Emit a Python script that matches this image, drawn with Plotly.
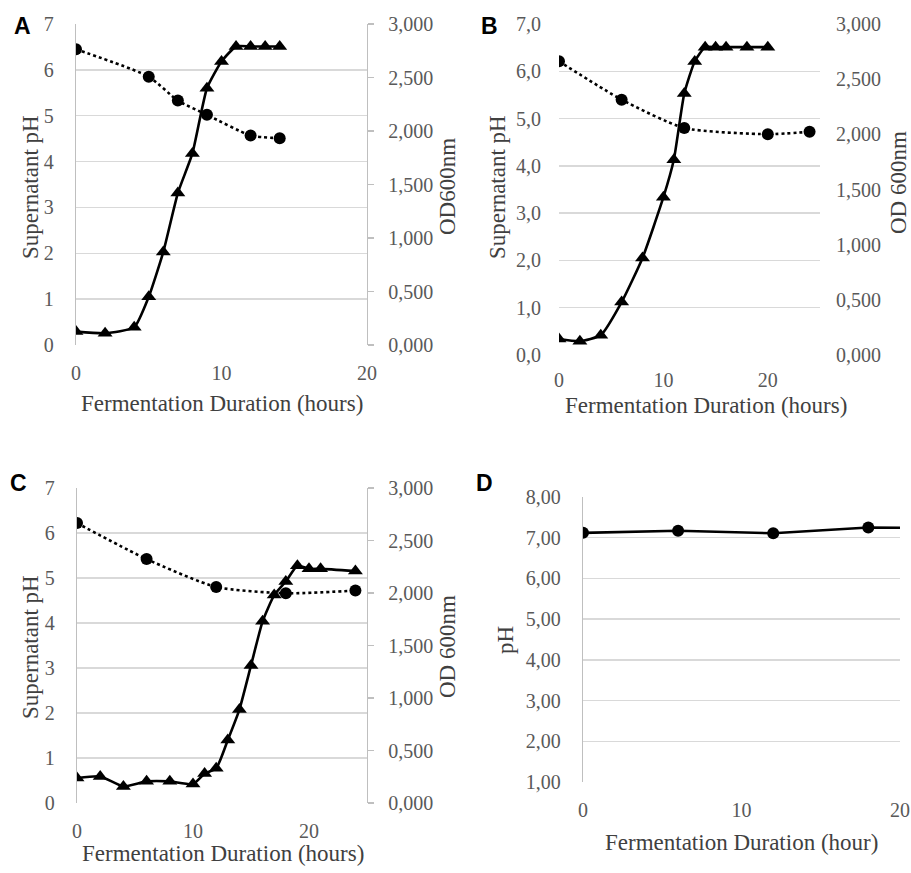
import plotly.graph_objects as go

W, H = 911, 873

# ---------------- data ----------------
# Panel A
a_od_t = [0, 2, 4, 5, 6, 7, 8, 9, 10, 11, 12, 13, 14]
a_od = [0.125, 0.11, 0.165, 0.45, 0.87, 1.42, 1.79, 2.40, 2.65, 2.79, 2.79, 2.79, 2.79]
a_ph_t = [0, 5, 7, 9, 12, 14]
a_ph = [6.45, 5.85, 5.33, 5.02, 4.57, 4.51]

# Panel B
b_od_t = [0, 2, 4, 6, 8, 10, 11, 12, 13, 14, 15, 16, 18, 20]
b_od = [0.145, 0.125, 0.18, 0.48, 0.88, 1.43, 1.77, 2.37, 2.66, 2.79, 2.79, 2.79, 2.79, 2.79]
b_ph_t = [0, 6, 12, 20, 24]
b_ph = [6.21, 5.40, 4.80, 4.67, 4.72]

# Panel C
c_od_t = [0, 2, 4, 6, 8, 10, 11, 12, 13, 14, 15, 16, 17, 18, 19, 20, 21, 24]
c_od = [0.237, 0.253, 0.158, 0.206, 0.206, 0.18, 0.28, 0.33, 0.60, 0.89, 1.31, 1.73,
        1.98, 2.11, 2.26, 2.23, 2.23, 2.21]
c_ph_t = [0, 6, 12, 18, 24]
c_ph = [6.22, 5.42, 4.80, 4.66, 4.72]

# Panel D
d_t = [0, 6, 12, 18, 24]
d_ph = [7.12, 7.17, 7.11, 7.25, 7.23]

# tick labels
ph_vals_int = [0, 1, 2, 3, 4, 5, 6, 7]
ph_text_int = ["0", "1", "2", "3", "4", "5", "6", "7"]
ph_text_b = ["0,0", "1,0", "2,0", "3,0", "4,0", "5,0", "6,0", "7,0"]
od_vals = [0, 0.5, 1.0, 1.5, 2.0, 2.5, 3.0]
od_text = ["0,000", "0,500", "1,000", "1,500", "2,000", "2,500", "3,000"]
d_vals = [1, 2, 3, 4, 5, 6, 7, 8]
d_text = ["1,00", "2,00", "3,00", "4,00", "5,00", "6,00", "7,00", "8,00"]
x_vals = [0, 10, 20]
x_text = ["0", "10", "20"]

# ---------------- styling ----------------
SERIF = "Liberation Serif, Times New Roman, serif"
TICK_FONT = dict(family=SERIF, size=20, color="#595959")
TITLE_FONT = dict(family=SERIF, size=23, color="#404040")
LETTER_FONT = dict(family="Liberation Sans, Arial, sans-serif", size=23, color="black")
GRID = "#d9d9d9"
AXLINE = "#bfbfbf"


def px_x(p):
    return p / W


def px_y(p):
    return 1 - p / H


fig = go.Figure()


def od_trace(x, y, xa, ya):
    fig.add_trace(go.Scatter(
        x=x, y=y, xaxis=xa, yaxis=ya, mode="lines+markers",
        line=dict(color="black", width=2.6, shape="spline", smoothing=0.5),
        marker=dict(symbol="triangle-up", size=13, color="black"),
        showlegend=False, hoverinfo="skip"))


def ph_trace(x, y, xa, ya, dash="dot"):
    fig.add_trace(go.Scatter(
        x=x, y=y, xaxis=xa, yaxis=ya, mode="lines+markers",
        line=dict(color="black", width=2.6, dash=dash, shape="spline", smoothing=0.6),
        marker=dict(symbol="circle", size=12, color="black"),
        showlegend=False, hoverinfo="skip"))


# Panel A
ph_trace(a_ph_t, a_ph, "x", "y")
od_trace(a_od_t, a_od, "x", "y2")
# Panel B
ph_trace(b_ph_t, b_ph, "x2", "y3")
od_trace(b_od_t, b_od, "x2", "y4")
# Panel C
ph_trace(c_ph_t, c_ph, "x3", "y5")
od_trace(c_od_t, c_od, "x3", "y6")
# Panel D
fig.add_trace(go.Scatter(
    x=d_t, y=d_ph, xaxis="x4", yaxis="y7", mode="lines+markers",
    line=dict(color="black", width=2.6),
    marker=dict(symbol="circle", size=12, color="black"),
    showlegend=False, hoverinfo="skip"))


def xaxis(dom, rng, anchor, standoff=14):
    return dict(domain=[px_x(dom[0]), px_x(dom[1])], range=rng, anchor=anchor,
                tickvals=x_vals, ticktext=x_text, tickfont=TICK_FONT,
                showgrid=False, zeroline=False, showline=False, ticks="",
                ticklabelstandoff=standoff, fixedrange=True, automargin=False)


def yleft(dom, rng, anchor, vals, text, line):
    return dict(domain=[px_y(dom[1]), px_y(dom[0])], range=rng, anchor=anchor,
                tickvals=vals, ticktext=text, tickfont=TICK_FONT,
                showgrid=True, gridcolor=GRID, gridwidth=1.3, zeroline=False,
                showline=line, linecolor=AXLINE, linewidth=1.3, ticks="",
                ticklabelstandoff=17, fixedrange=True, automargin=False)


def yright(overlay, anchor, line):
    d = dict(overlaying=overlay, side="right", anchor=anchor, range=[0, 3.0],
             tickvals=od_vals, ticktext=od_text, tickfont=TICK_FONT,
             showgrid=False, zeroline=False, showline=line, linecolor=AXLINE,
             linewidth=1.3, fixedrange=True, automargin=False)
    if line:
        d.update(ticks="outside", ticklen=6, tickcolor=AXLINE, tickwidth=1.3,
                 ticklabelstandoff=10)
    else:
        d.update(ticks="", ticklabelstandoff=15)
    return d


# panel geometry (pixels)
A = dict(x=(76, 367), y=(24, 345))
B = dict(x=(559, 820), y=(24, 355))
C = dict(x=(77, 367), y=(488, 803))
D = dict(x=(583, 900), y=(497, 782))

fig.update_layout(
    width=W, height=H, margin=dict(l=0, r=0, t=0, b=0, autoexpand=False),
    paper_bgcolor="white", plot_bgcolor="white", showlegend=False,
    hovermode=False,
    xaxis=xaxis(A["x"], [0, 20], "y"),
    yaxis=yleft(A["y"], [0, 7], "x", ph_vals_int, ph_text_int, True),
    yaxis2=yright("y", "x", True),
    xaxis2=xaxis(B["x"], [0, 25], "y3", standoff=11),
    yaxis3=yleft(B["y"], [0, 7], "x2", ph_vals_int, ph_text_b, False),
    yaxis4=yright("y3", "x2", False),
    xaxis3=xaxis(C["x"], [0, 25], "y5"),
    yaxis5=yleft(C["y"], [0, 7], "x3", ph_vals_int, ph_text_int, True),
    yaxis6=yright("y5", "x3", True),
    xaxis4=xaxis(D["x"], [0, 20], "y7"),
    yaxis7=yleft(D["y"], [1, 8], "x4", d_vals, d_text, True),
)

annots = [
    # panel letters
    ("A", 22, 26, 0, LETTER_FONT, True),
    ("B", 489, 26, 0, LETTER_FONT, True),
    ("C", 18, 483, 0, LETTER_FONT, True),
    ("D", 485, 483, 0, LETTER_FONT, True),
    # x titles
    ("Fermentation Duration (hours)", 222, 403, 0, TITLE_FONT, False),
    ("Fermentation Duration (hours)", 706, 405, 0, TITLE_FONT, False),
    ("Fermentation Duration (hours)", 223, 853, 0, TITLE_FONT, False),
    ("Fermentation Duration (hour)", 741, 842, 0, TITLE_FONT, False),
    # y titles left
    ("Supernatant pH", 30, 187, -90, TITLE_FONT, False),
    ("Supernatant pH", 497, 187, -90, TITLE_FONT, False),
    ("Supernatant pH", 30, 647, -90, TITLE_FONT, False),
    ("pH", 505, 640, -90, TITLE_FONT, False),
    # y titles right
    ("OD600nm", 447, 187, -90, TITLE_FONT, False),
    ("OD 600nm", 898, 183, -90, TITLE_FONT, False),
    ("OD 600nm", 447, 647, -90, TITLE_FONT, False),
]
for text, x, y, ang, font, bold in annots:
    fig.add_annotation(
        text=f"<b>{text}</b>" if bold else text,
        x=px_x(x), y=px_y(y), xref="paper", yref="paper",
        xanchor="center", yanchor="middle", textangle=ang,
        showarrow=False, font=font)

fig.write_html(
    "out.html",
    config={"displayModeBar": False, "staticPlot": True},
    post_script="document.body.style.margin='0';document.body.style.padding='0';"
                "document.documentElement.style.overflow='hidden';",
)
